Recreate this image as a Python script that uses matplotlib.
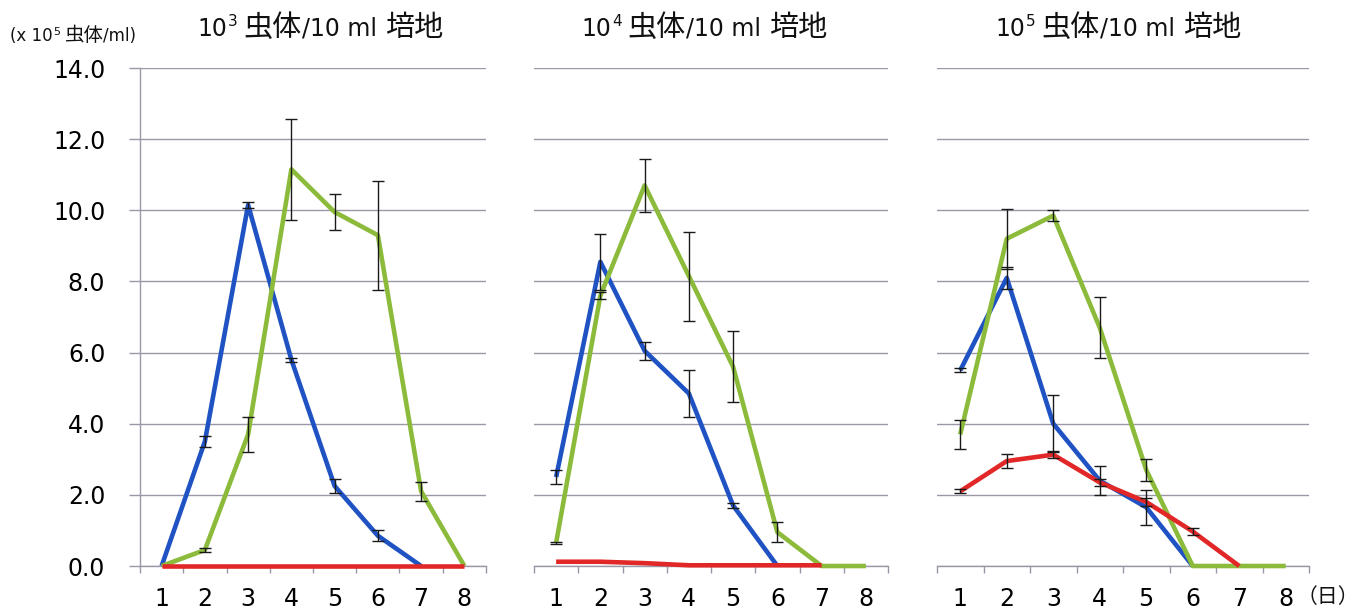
import matplotlib.pyplot as plt
from matplotlib.transforms import IdentityTransform
import numpy as np

plt.rcParams['font.family'] = ['DejaVu Sans', 'Noto Sans CJK JP']

nan = np.nan
days = [1, 2, 3, 4, 5, 6, 7, 8]
inoculum_exp = ['3', '4', '5']

# mean counts (x 10^5 /ml) and SD per inoculum
blue_mean = [
    [0.0, 3.5, 10.15, 5.8, 2.25, 0.85, 0.0, nan],
    [2.5, 8.55, 6.05, 4.85, 1.7, 0.0, nan, nan],
    [5.5, 8.1, 4.0, 2.4, 1.65, 0.0, nan, nan],
]
blue_sd = [
    [0, 0.15, 0.08, 0.06, 0.2, 0.15, 0, 0],
    [0.2, 0.78, 0.25, 0.65, 0.06, 0, 0, 0],
    [0.06, 0.3, 0.8, 0.4, 0.5, 0, 0, 0],
]
green_mean = [
    [0.0, 0.45, 3.7, 11.15, 9.95, 9.3, 2.1, 0.0],
    [0.65, 7.6, 10.7, 8.15, 5.6, 0.95, 0.0, 0.0],
    [3.7, 9.2, 9.85, 6.7, 2.7, 0.0, 0.0, 0.0],
]
green_sd = [
    [0, 0.05, 0.5, 1.42, 0.5, 1.53, 0.27, 0],
    [0.03, 0.1, 0.75, 1.25, 1.0, 0.28, 0, 0],
    [0.4, 0.85, 0.15, 0.85, 0.3, 0, 0, 0],
]
red_mean = [
    [0.0, 0.0, 0.0, 0.0, 0.0, 0.0, 0.0, 0.0],
    [0.12, 0.12, 0.08, 0.02, 0.02, 0.02, 0.02, nan],
    [2.1, 2.95, 3.13, 2.35, 1.8, 0.97, 0.0, nan],
]
red_sd = [
    [0, 0, 0, 0, 0, 0, 0, 0],
    [0, 0, 0, 0, 0, 0, 0, 0],
    [0.06, 0.2, 0.1, 0.1, 0.1, 0.1, 0, 0],
]

W, H = 1371, 611
fig = plt.figure(figsize=(W / 100, H / 100), dpi=100, facecolor='white')

# panel extents in pixels
panel_px = [(140, 486), (534, 888), (937, 1309)]
title_x = [197, 581, 995]
y_bottom, y_top = 566, 68

colors = {'blue': '#1f52c2', 'green': '#8cbb3c', 'red': '#e12727'}
grid_color = '#9a98a6'


def text_runs(x, y, runs):
    """Draw pieces of text side by side: (string, size, rise px, gap px)."""
    renderer = fig.canvas.get_renderer()
    for s, size, rise, gap in runs:
        t = fig.text(x, y + rise, s, fontsize=size, ha='left', va='baseline',
                     transform=IdentityTransform(), color='#111111')
        x += t.get_window_extent(renderer).width + gap


series = [
    (blue_mean, blue_sd, colors['blue'], 3),
    (green_mean, green_sd, colors['green'], 4),
    (red_mean, red_sd, colors['red'], 5),
]

for i in range(3):
    x0, x1 = panel_px[i]
    ax = fig.add_axes([x0 / W, (H - y_bottom) / H, (x1 - x0) / W,
                       (y_bottom - y_top) / H])
    ax.set_xlim(0.5, 8.5)
    ax.set_ylim(0, 14)

    for mean, sd, c, z in series:
        m = np.array(mean[i], dtype=float)
        s = np.array(sd[i], dtype=float)
        ax.plot(days, m, color=c, lw=3.3, zorder=z, clip_on=False,
                solid_joinstyle='round', solid_capstyle='butt')
        has_err = (s > 0) & ~np.isnan(m)
        d = np.array(days)[has_err]
        ax.errorbar(d, m[has_err], yerr=s[has_err], fmt='none', ecolor='#1a1a1a',
                    elinewidth=1.0, capsize=4, capthick=1.0, zorder=6, clip_on=False)

    ax.set_yticks(np.arange(0, 15, 2))
    ax.yaxis.grid(True, color=grid_color, lw=1.0, zorder=0)
    ax.set_axisbelow(True)

    # category boundaries carry the tick marks, labels sit at the centres
    ax.set_xticks(np.arange(0.5, 9.0, 1.0))
    ax.set_xticklabels([])
    ax.set_xticks(days, minor=True)
    ax.set_xticklabels([str(d) for d in days], minor=True, fontsize=17)
    ax.tick_params(axis='x', which='major', length=5, width=1, color=grid_color,
                   direction='out')
    ax.tick_params(axis='x', which='minor', length=0, pad=15)

    for side in ['top', 'right']:
        ax.spines[side].set_visible(False)
    ax.spines['bottom'].set_color(grid_color)
    ax.spines['bottom'].set_linewidth(1.0)

    if i == 0:
        ax.spines['left'].set_color(grid_color)
        ax.spines['left'].set_linewidth(1.0)
        ax.set_yticklabels([f'{v:.1f}' for v in np.arange(0, 15, 2)], fontsize=17)
        ax.tick_params(axis='y', length=8, width=1, color=grid_color, pad=17)
    else:
        ax.spines['left'].set_visible(False)
        ax.tick_params(axis='y', length=0, labelleft=False)

    text_runs(title_x[i], H - 36, [
        ('10', 17, 0, 1),
        (inoculum_exp[i], 11, 10, 6),
        ('虫体', 21, 0, 0),
        ('/10 ml', 17, 0, 8),
        ('培地', 21, 0, 0),
    ])

text_runs(10, H - 41, [
    ('(x 10', 12, 0, 1),
    ('5', 8, 6, 3),
    ('虫体', 14, 0, 0),
    ('/ml)', 12, 0, 0),
])
fig.text(1297 / W, 1 - 597 / H, '（日）', fontsize=15, ha='left', va='center',
         family=['Noto Sans CJK JP'], color='#111111')

fig.savefig('out.png', dpi=100, facecolor='white')
